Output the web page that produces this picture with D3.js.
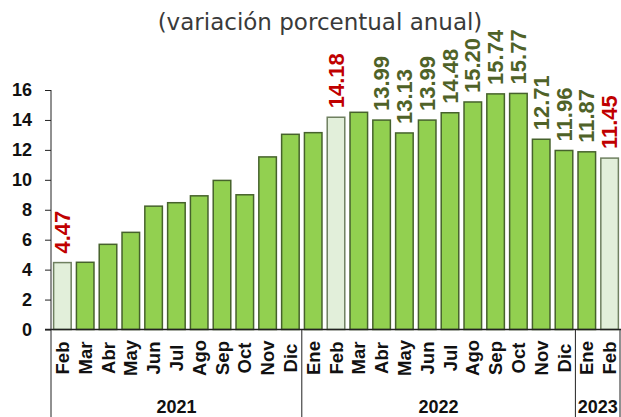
<!DOCTYPE html>
<html>
<head>
<meta charset="utf-8">
<script src="https://cdn.jsdelivr.net/npm/d3@7"></script>
<style>
  body { margin: 0; background: #fff; }
  text { font-family: 'Liberation Sans', Arial, sans-serif; }
</style>
</head>
<body>
<div id="chart"></div>
<script>
// data
const months = ['Feb', 'Mar', 'Abr', 'May', 'Jun', 'Jul', 'Ago', 'Sep', 'Oct', 'Nov', 'Dic',
  'Ene', 'Feb', 'Mar', 'Abr', 'May', 'Jun', 'Jul', 'Ago', 'Sep', 'Oct', 'Nov', 'Dic',
  'Ene', 'Feb']
const years = ['2021', '2021', '2021', '2021', '2021', '2021', '2021', '2021', '2021', '2021', '2021',
  '2022', '2022', '2022', '2022', '2022', '2022', '2022', '2022', '2022', '2022', '2022', '2022',
  '2023', '2023']
const values = [4.47, 4.49, 5.69, 6.49, 8.24, 8.47, 8.93, 9.96, 9.0, 11.53, 13.04,
  13.15, 14.18, 14.51, 13.99, 13.13, 13.99, 14.48, 15.2, 15.74, 15.77, 12.71, 11.96,
  11.87, 11.45]
// which bars are highlighted (february) and which carry a value label
const highlighted = [0, 12, 24]
const labelled = [0, 12, 14, 15, 16, 17, 18, 19, 20, 21, 22, 23, 24]
const yTicks = [0, 2, 4, 6, 8, 10, 12, 14, 16]
const subtitle = '(variación porcentual anual)'

const width = 621
const height = 417

const svg = d3.select('#chart')
  .append('svg')
  .attr('width', width)
  .attr('height', height)

const datapoints = values.map((v, i) => ({
  i: i, value: v, month: months[i], year: years[i],
  highlight: highlighted.includes(i),
  label: labelled.includes(i)
}))

const xPositionScale = d3.scaleBand()
  .domain(datapoints.map(d => d.i))
  .range([51, 621])
  .paddingInner(0.23)
  .paddingOuter(0.115)

const yPositionScale = d3.scaleLinear()
  .domain([0, 16])
  .range([329.5, 90])

// subtitle
svg.append('text')
  .attr('x', 320)
  .attr('y', 30)
  .attr('text-anchor', 'middle')
  .style('font-family', "'DejaVu Sans', sans-serif")
  .style('font-size', '23px')
  .attr('fill', '#3a3a3a')
  .text(subtitle)

// y axis
const yAxis = d3.axisLeft(yPositionScale)
  .tickValues(yTicks)
  .tickSize(6)
  .tickPadding(13)
  .tickSizeOuter(0)
svg.append('g')
  .attr('class', 'axis y-axis')
  .attr('transform', 'translate(51,0)')
  .call(yAxis)
  .call(g => g.select('.domain').remove())
  .call(g => g.selectAll('line').attr('stroke', '#222'))
  .call(g => g.selectAll('text')
    .style('font-size', '18px')
    .style('font-weight', 'bold')
    .attr('fill', '#111'))

// bars
svg.selectAll('.bar')
  .data(datapoints)
  .enter()
  .append('rect')
  .attr('class', 'bar')
  .attr('x', d => xPositionScale(d.i))
  .attr('width', xPositionScale.bandwidth())
  .attr('y', d => yPositionScale(d.value))
  .attr('height', d => yPositionScale(0) - yPositionScale(d.value))
  .attr('fill', d => d.highlight ? '#e2efda' : '#92d050')
  .attr('stroke', d => d.highlight ? '#6f8060' : '#46622c')
  .attr('stroke-width', 1.5)

// value labels
svg.selectAll('.value-label')
  .data(datapoints.filter(d => d.label))
  .enter()
  .append('text')
  .attr('class', 'value-label')
  .attr('transform', d => 'translate(' + (xPositionScale(d.i) + xPositionScale.bandwidth() / 2) + ',' + (yPositionScale(d.value) - 9) + ') rotate(-90)')
  .attr('dominant-baseline', 'central')
  .style('font-size', '22px')
  .style('font-weight', 'bold')
  .attr('fill', d => d.highlight ? '#c00000' : '#4f6228')
  .text(d => d.value.toFixed(2))

// axis frame lines
const step = xPositionScale.step()
const gap = step * xPositionScale.paddingInner() / 2
svg.append('line')
  .attr('x1', 51).attr('x2', 51)
  .attr('y1', yPositionScale(16)).attr('y2', height)
  .attr('stroke', '#222')
svg.append('line')
  .attr('x1', 45).attr('x2', 621)
  .attr('y1', yPositionScale(0)).attr('y2', yPositionScale(0))
  .attr('stroke', '#222').attr('stroke-width', 1.5)

// year groups
const groups = d3.groups(datapoints, d => d.year).map(([year, rows]) => ({
  year: year,
  x0: xPositionScale(rows[0].i) - gap,
  x1: Math.min(xPositionScale(rows[rows.length - 1].i) + xPositionScale.bandwidth() + gap, 620)
}))
svg.selectAll('.divider')
  .data(groups)
  .enter()
  .append('line')
  .attr('class', 'divider')
  .attr('x1', d => d.x1).attr('x2', d => d.x1)
  .attr('y1', yPositionScale(0)).attr('y2', height)
  .attr('stroke', '#222')
svg.selectAll('.year-label')
  .data(groups)
  .enter()
  .append('text')
  .attr('class', 'year-label')
  .attr('x', (d, i) => (i === 0 ? 51 : d.x0) / 2 + d.x1 / 2)
  .attr('y', 413)
  .attr('text-anchor', 'middle')
  .style('font-size', '18px')
  .style('font-weight', 'bold')
  .attr('fill', '#111')
  .text(d => d.year)

// month labels
svg.selectAll('.month-label')
  .data(datapoints)
  .enter()
  .append('text')
  .attr('class', 'month-label')
  .attr('transform', d => 'translate(' + (xPositionScale(d.i) + xPositionScale.bandwidth() / 2) + ',358) rotate(-90)')
  .attr('text-anchor', 'middle')
  .attr('dominant-baseline', 'central')
  .style('font-size', '18.5px')
  .style('font-weight', 'bold')
  .attr('fill', '#111')
  .text(d => d.month)
</script>
</body>
</html>
